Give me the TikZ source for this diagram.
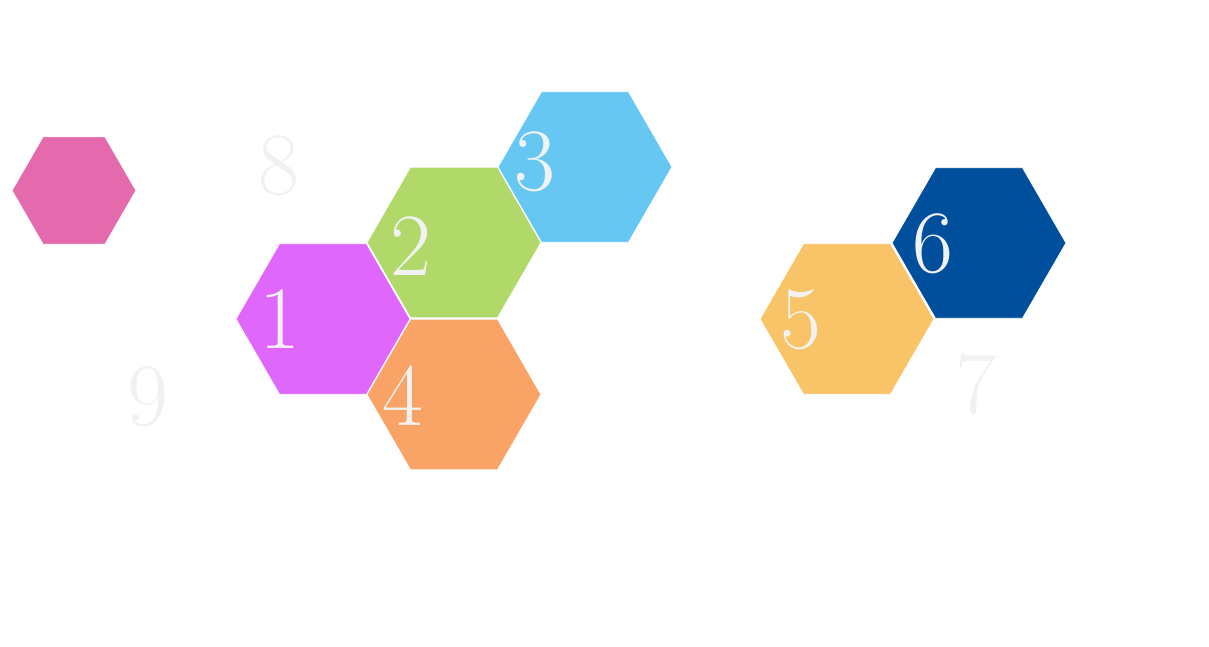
\documentclass[tikz,border=0pt]{standalone}
\usetikzlibrary{shapes.geometric}
\definecolor{hxmag}{HTML}{DF67FB}
\definecolor{hxgreen}{HTML}{B0D96A}
\definecolor{hxblue}{HTML}{66C8F2}
\definecolor{hxorange}{HTML}{F9A466}
\definecolor{hxyellow}{HTML}{F9C367}
\definecolor{hxnavy}{HTML}{004F9C}
\definecolor{hxpink}{HTML}{E46AAD}
\definecolor{numcol}{HTML}{F2F2F2}
\definecolor{ghostcol}{HTML}{F1F1F1}
\tikzset{
  hexbig/.style={regular polygon, regular polygon sides=6, minimum size=174pt, inner sep=0pt, outer sep=0pt, draw=white, line width=0.8pt},
  hexsmall/.style={regular polygon, regular polygon sides=6, minimum size=124pt, inner sep=0pt, outer sep=0pt, draw=white, line width=0.8pt},
  numlabel/.style={text=numcol, inner sep=0pt, font=\fontsize{89}{89}\selectfont},
  ghostlabel/.style={text=ghostcol, inner sep=0pt, font=\fontsize{89}{89}\selectfont}
}
\begin{document}
\begin{tikzpicture}[x=1pt,y=-1pt]
\useasboundingbox[fill=white] (0,0) rectangle (1209,647);
\node[hexsmall, fill=hxpink] (hp) at (74,190.5) {};
\node[hexbig, fill=hxmag] (h1) at (323,319) {};
\node[hexbig, fill=hxgreen] (h2) at (454,242.5) {};
\node[hexbig, fill=hxblue] (h3) at (585,167) {};
\node[hexbig, fill=hxorange] (h4) at (454,394.5) {};
\node[hexbig, fill=hxyellow] (h5) at (847,319) {};
\node[hexbig, fill=hxnavy] (h6) at (979,243) {};
\node[numlabel] (n1) at (280,319) {1};
\node[numlabel] (n2) at (411,246) {2};
\node[numlabel] (n3) at (535,162) {3};
\node[numlabel] (n4) at (403,396) {4};
\node[numlabel] (n5) at (801,320) {5};
\node[numlabel] (n6) at (933,244) {6};
\node[ghostlabel] (g8) at (279,166) {8};
\node[ghostlabel] (g9) at (148,397) {9};
\node[ghostlabel] (g7) at (976,384) {7};
\end{tikzpicture}
\end{document}
